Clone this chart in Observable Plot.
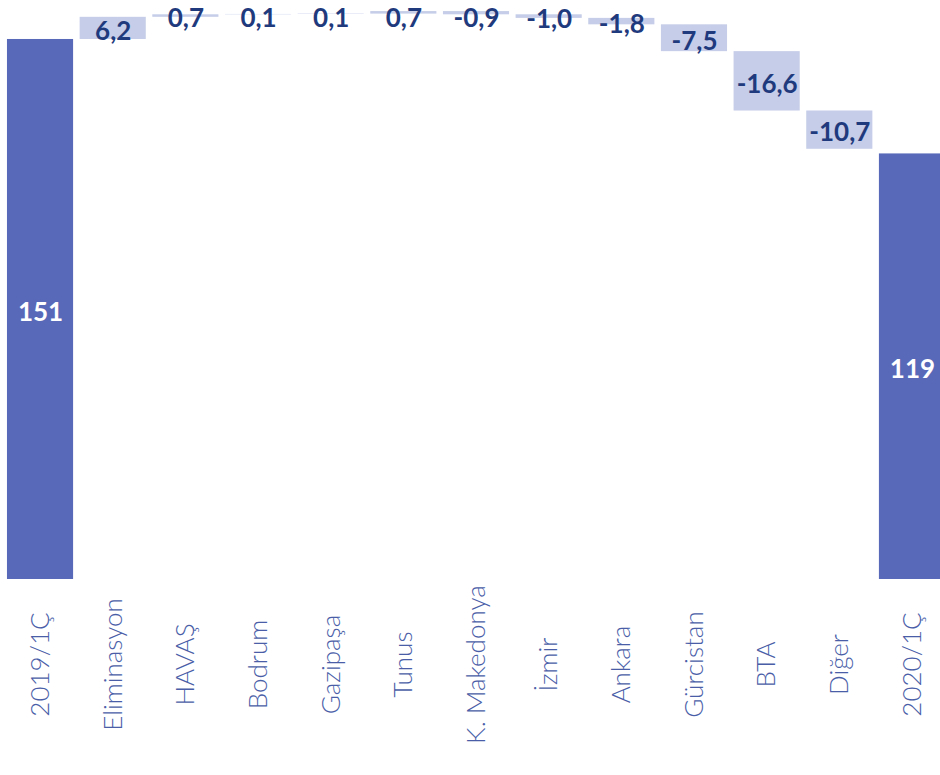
<!DOCTYPE html>
<html>
<head>
<meta charset="utf-8">
<script src="https://cdn.jsdelivr.net/npm/d3@7"></script>
<script src="https://cdn.jsdelivr.net/npm/@observablehq/plot@0.6"></script>
<style>
  html, body { margin: 0; padding: 0; background: #ffffff; overflow: hidden; }
  #chart { width: 940px; height: 775px; overflow: hidden; }
</style>
</head>
<body>
<div id="chart"></div>
<script>
// Waterfall: passenger totals 2019/1Ç → 2020/1Ç and the contribution of each unit
const categories = ["2019/1Ç", "Eliminasyon", "HAVAŞ", "Bodrum", "Gazipaşa", "Tunus",
  "K. Makedonya", "İzmir", "Ankara", "Gürcistan", "BTA", "Diğer", "2020/1Ç"];
const startTotal = 151;
const endTotal = 119;
const changeLabels = categories.slice(1, -1);
const changeValues = [6.2, 0.7, 0.1, 0.1, 0.7, -0.9, -1.0, -1.8, -7.5, -16.6, -10.7];

const fmt = v => v.toFixed(1).replace(".", ",");

// totals drawn from zero
const totals = [
  {label: categories[0], y1: 0, y2: startTotal, text: String(startTotal)},
  {label: categories[categories.length - 1], y1: 0, y2: endTotal, text: String(endTotal)}
];

// floating steps, each starting where the previous one ended
let running = startTotal;
const steps = changeLabels.map((label, i) => {
  const y1 = running;
  running += changeValues[i];
  return {label, y1, y2: running, text: fmt(changeValues[i])};
});

const yMax = 161.9;
// keep step labels from running off the top edge
const labelCeiling = 157.6;
const labelY = d => Math.min((d.y1 + d.y2) / 2, labelCeiling);

const chart = Plot.plot({
  width: 940,
  height: 775,
  marginTop: 0,
  marginBottom: 196,
  marginLeft: 0,
  marginRight: 0,
  style: {fontFamily: "Lato, 'Open Sans', sans-serif", background: "#ffffff"},
  x: {domain: categories, range: [3.7, 948.3], paddingInner: 0.09, paddingOuter: 0.045, round: false},
  y: {domain: [0, yMax], axis: null},
  marks: [
    Plot.barY(totals, {x: "label", y1: "y1", y2: "y2", fill: "#5769b8"}),
    Plot.barY(steps, {x: "label", y1: "y1", y2: "y2", fill: "#c5cde8"}),
    Plot.text(steps, {
      x: "label", y: labelY, text: "text", dy: 3,
      fill: "#1f3a7d", fontWeight: "bold", fontSize: 26
    }),
    Plot.text(totals, {
      x: "label", y: d => (d.y1 + d.y2) / 2, text: "text", dy: 3,
      fill: "#ffffff", fontWeight: "bold", fontSize: 26
    }),
    Plot.axisX({
      tickSize: 0, tickPadding: 85, rotate: -90,
      textAnchor: "middle", lineAnchor: "middle",
      fontSize: 26, fontWeight: 300, color: "#4a5ea8", label: null
    })
  ]
});

document.getElementById("chart").appendChild(chart);
</script>
</body>
</html>
